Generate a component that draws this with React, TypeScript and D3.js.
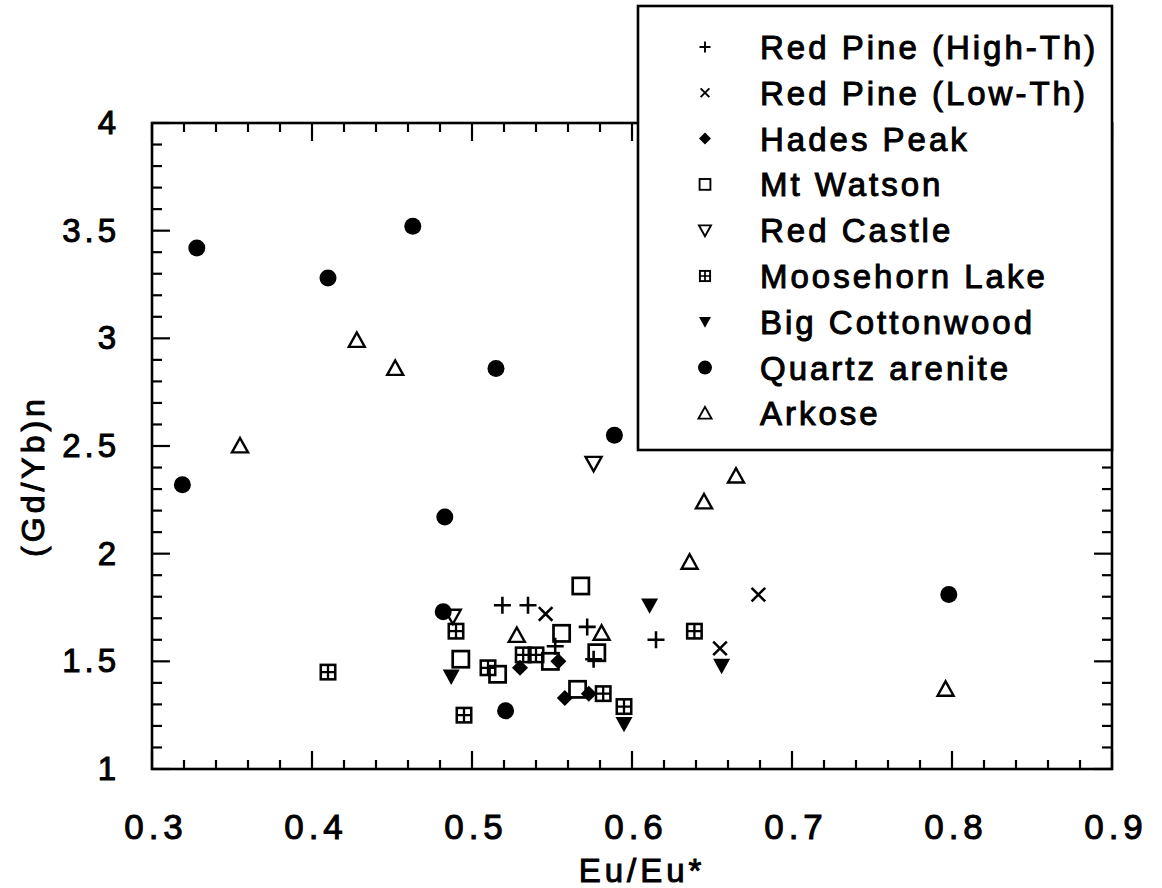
import React from "react";
import * as d3 from "d3";

const redPineHigh: [number, number][] = [
  [0.519, 1.76], [0.535, 1.76], [0.572, 1.66], [0.615, 1.6], [0.552, 1.57], [0.576, 1.51],
];
const redPineLow: [number, number][] = [
  [0.546, 1.72], [0.679, 1.81], [0.655, 1.56],
];
const hadesPeak: [number, number][] = [
  [0.53, 1.47], [0.554, 1.5], [0.558, 1.33], [0.573, 1.35],
];
const mtWatson: [number, number][] = [
  [0.568, 1.85], [0.556, 1.63], [0.578, 1.54], [0.493, 1.51], [0.516, 1.44], [0.549, 1.5], [0.566, 1.37],
];
const redCastle: [number, number][] = [
  [0.576, 2.42], [0.488, 1.71],
];
const moosehorn: [number, number][] = [
  [0.41, 1.45], [0.49, 1.64], [0.495, 1.25], [0.51, 1.47], [0.532, 1.53], [0.54, 1.53],
  [0.582, 1.35], [0.595, 1.29], [0.639, 1.64],
];
const bigCottonwood: [number, number][] = [
  [0.487, 1.43], [0.611, 1.76], [0.656, 1.48], [0.595, 1.21],
];
const quartzArenite: [number, number][] = [
  [0.328, 3.42], [0.41, 3.28], [0.463, 3.52], [0.319, 2.32], [0.515, 2.86], [0.589, 2.55],
  [0.483, 2.17], [0.482, 1.73], [0.521, 1.27], [0.798, 1.81],
];
const arkose: [number, number][] = [
  [0.428, 2.99], [0.452, 2.86], [0.355, 2.5], [0.665, 2.36], [0.645, 2.24], [0.636, 1.96],
  [0.796, 1.37], [0.528, 1.62], [0.581, 1.63],
];

const xTickLabels = ["0.3", "0.4", "0.5", "0.6", "0.7", "0.8", "0.9"];
const yTickLabels = ["1", "1.5", "2", "2.5", "3", "3.5", "4"];

type Sym = "plus" | "cross" | "diamond" | "square" | "triDownOpen" | "boxCross" | "triDownFilled" | "circle" | "triUpOpen";

const series: { name: string; sym: Sym; data: [number, number][] }[] = [
  { name: "Red Pine (High-Th)", sym: "plus", data: redPineHigh },
  { name: "Red Pine (Low-Th)", sym: "cross", data: redPineLow },
  { name: "Hades Peak", sym: "diamond", data: hadesPeak },
  { name: "Mt Watson", sym: "square", data: mtWatson },
  { name: "Red Castle", sym: "triDownOpen", data: redCastle },
  { name: "Moosehorn Lake", sym: "boxCross", data: moosehorn },
  { name: "Big Cottonwood", sym: "triDownFilled", data: bigCottonwood },
  { name: "Quartz arenite", sym: "circle", data: quartzArenite },
  { name: "Arkose", sym: "triUpOpen", data: arkose },
];

const drawOrder = ["Mt Watson", "Moosehorn Lake", "Arkose", "Red Castle", "Red Pine (High-Th)", "Red Pine (Low-Th)", "Big Cottonwood", "Quartz arenite", "Hades Peak"];

function Marker({ sym, cx, cy, s }: { sym: Sym; cx: number; cy: number; s: number }) {
  const h = s / 2;
  const sw = Math.max(1.9, s * 0.15);
  switch (sym) {
    case "plus":
      return <path d={`M${cx - h},${cy}H${cx + h}M${cx},${cy - h}V${cy + h}`} stroke="#000" strokeWidth={sw} fill="none" />;
    case "cross": {
      const k = h * 0.8;
      return <path d={`M${cx - k},${cy - k}L${cx + k},${cy + k}M${cx - k},${cy + k}L${cx + k},${cy - k}`} stroke="#000" strokeWidth={sw} fill="none" />;
    }
    case "diamond":
      return <path d={`M${cx},${cy - h}L${cx + h},${cy}L${cx},${cy + h}L${cx - h},${cy}Z`} fill="#000" />;
    case "square": {
      const k = h * 0.9;
      return <rect x={cx - k} y={cy - k} width={2 * k} height={2 * k} stroke="#000" strokeWidth={sw} fill="none" />;
    }
    case "boxCross": {
      const k = h * 0.85;
      return (
        <g>
          <rect x={cx - k} y={cy - k} width={2 * k} height={2 * k} stroke="#000" strokeWidth={sw} fill="none" />
          <path d={`M${cx - k},${cy}H${cx + k}M${cx},${cy - k}V${cy + k}`} stroke="#000" strokeWidth={sw * 0.9} />
        </g>
      );
    }
    case "triDownOpen":
      return <path d={`M${cx - h},${cy - h * 0.8}L${cx + h},${cy - h * 0.8}L${cx},${cy + h}Z`} stroke="#000" strokeWidth={sw} fill="none" />;
    case "triDownFilled":
      return <path d={`M${cx - h},${cy - h * 0.8}L${cx + h},${cy - h * 0.8}L${cx},${cy + h}Z`} fill="#000" />;
    case "triUpOpen":
      return <path d={`M${cx - h},${cy + h * 0.8}L${cx + h},${cy + h * 0.8}L${cx},${cy - h}Z`} stroke="#000" strokeWidth={sw} fill="none" />;
    case "circle":
      return <circle cx={cx} cy={cy} r={h} fill="#000" />;
  }
  return null;
}

const markerSize: Record<Sym, number> = {
  plus: 17, cross: 17, diamond: 16, square: 18, triDownOpen: 16, boxCross: 17, triDownFilled: 17, circle: 17, triUpOpen: 16,
};
const legendSize: Record<Sym, number> = {
  plus: 11, cross: 11, diamond: 12, square: 12, triDownOpen: 12, boxCross: 12, triDownFilled: 12, circle: 14, triUpOpen: 13,
};

export default function App() {
  const W = 1162, H = 888;
  const left = 152, right = 1112, top = 123, bottom = 769;
  const x = d3.scaleLinear().domain([0.3, 0.9]).range([left, right]);
  const y = d3.scaleLinear().domain([1, 4]).range([bottom, top]);

  const xMinor = d3.range(0, 31).map((i) => 0.3 + i * 0.02);
  const yMinor = d3.range(0, 31).map((i) => 1 + i * 0.1);
  const isMajorX = (v: number) => Math.abs(v * 10 - Math.round(v * 10)) < 1e-6;
  const isMajorY = (v: number) => Math.abs(v * 2 - Math.round(v * 2)) < 1e-6;

  const textStyle = { fontFamily: "'Liberation Sans', Arial, sans-serif", fill: "#000", stroke: "#000", strokeWidth: 1 } as const;

  const legend = { x0: 638, y0: 6, x1: 1112, y1: 450, symX: 705, textX: 760, row0: 47, rowH: 45.8 };

  const ordered = drawOrder.map((n) => series.find((s) => s.name === n)!);

  return (
    <svg width={W} height={H} style={{ position: "absolute", left: 0, top: 0, background: "#fff" }}>
      <rect width={W} height={H} fill="#fff" />
      <rect x={left} y={top} width={right - left} height={bottom - top} fill="none" stroke="#000" strokeWidth={2.6} />
      {xMinor.map((v, i) => {
        const len = isMajorX(v) ? 18 : 9;
        return (
          <g key={"xt" + i}>
            <line x1={x(v)} x2={x(v)} y1={bottom} y2={bottom - len} stroke="#000" strokeWidth={2.2} />
            <line x1={x(v)} x2={x(v)} y1={top} y2={top + len} stroke="#000" strokeWidth={2.2} />
          </g>
        );
      })}
      {yMinor.map((v, i) => {
        const len = isMajorY(v) ? 18 : 10;
        return (
          <g key={"yt" + i}>
            <line x1={left} x2={left + len} y1={y(v)} y2={y(v)} stroke="#000" strokeWidth={2.2} />
            <line x1={right} x2={right - len} y1={y(v)} y2={y(v)} stroke="#000" strokeWidth={2.2} />
          </g>
        );
      })}
      {xTickLabels.map((t) => (
        <text key={"xl" + t} x={x(+t) + 4} y={839} textAnchor="middle" fontSize={35} letterSpacing={5} style={textStyle}>
          {t}
        </text>
      ))}
      {yTickLabels.map((t) => (
        <text key={"yl" + t} x={120} y={y(+t) + 11} textAnchor="end" fontSize={33} letterSpacing={4} style={textStyle}>
          {t}
        </text>
      ))}
      <text x={642} y={882} textAnchor="middle" fontSize={33} letterSpacing={4} style={textStyle}>
        Eu/Eu*
      </text>
      <text transform="translate(44,476) rotate(-90)" textAnchor="middle" fontSize={32} letterSpacing={4} style={textStyle}>
        (Gd/Yb)n
      </text>
      {ordered.map((s) =>
        s.data.map((d, i) => (
          <Marker key={s.name + i} sym={s.sym} cx={x(d[0])} cy={y(d[1])} s={markerSize[s.sym]} />
        ))
      )}
      <rect x={legend.x0} y={legend.y0} width={legend.x1 - legend.x0} height={legend.y1 - legend.y0} fill="#fff" stroke="#000" strokeWidth={2.6} />
      {series.map((s, i) => {
        const cy = legend.row0 + i * legend.rowH;
        return (
          <g key={"lg" + s.name}>
            <Marker sym={s.sym} cx={legend.symX} cy={cy} s={legendSize[s.sym]} />
            <text x={legend.textX} y={cy + 12} fontSize={33} letterSpacing={3} style={textStyle}>
              {s.name}
            </text>
          </g>
        );
      })}
    </svg>
  );
}
